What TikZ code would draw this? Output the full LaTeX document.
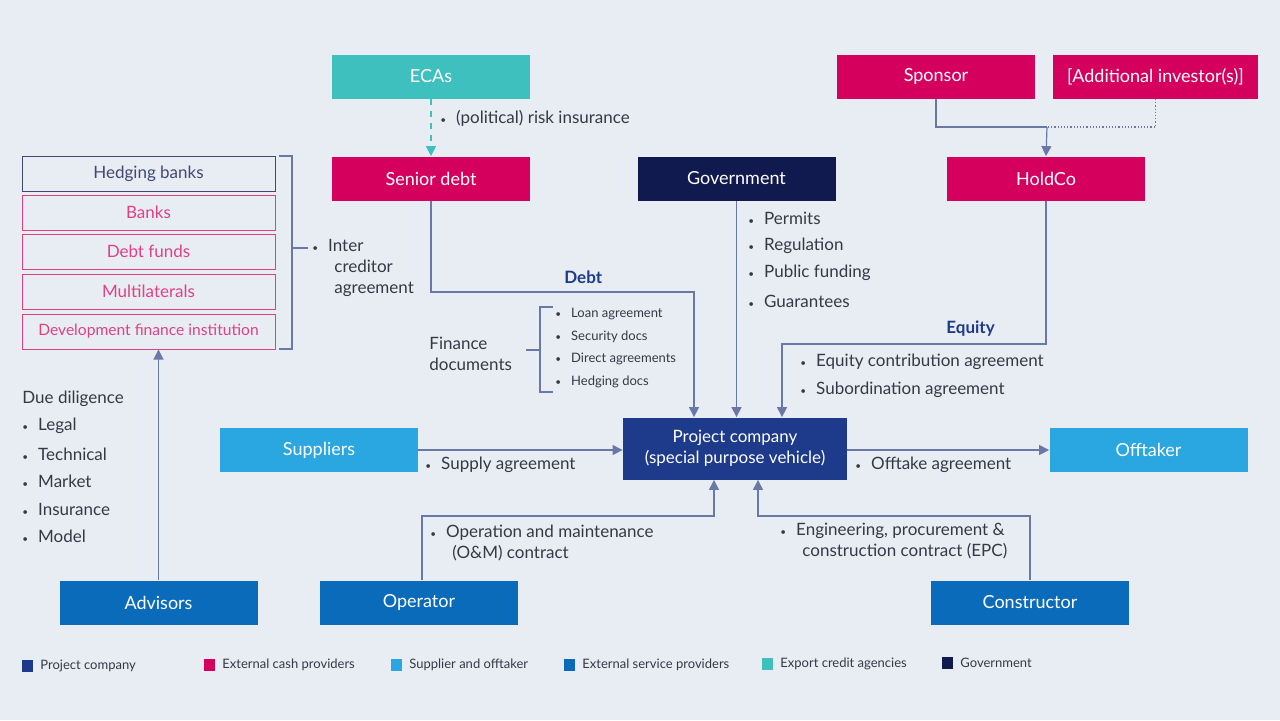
\documentclass[tikz,border=0pt]{standalone}
\usepackage{fontspec}
\setmainfont{Lato}
\definecolor{bg}{HTML}{E8EDF4}
\definecolor{pink}{HTML}{D5005E}
\definecolor{teal}{HTML}{3EC0BE}
\definecolor{gov}{HTML}{111A4F}
\definecolor{pc}{HTML}{1E3A8A}
\definecolor{lb}{HTML}{2AA7E0}
\definecolor{sb}{HTML}{0A6BBA}
\definecolor{txt}{HTML}{333A45}
\definecolor{ln}{HTML}{6A78A8}
\newcommand\bul{{\fontsize{5}{5}\selectfont\textbullet}\hspace{5pt}}
\begin{document}
\begin{tikzpicture}[x=0.5pt,y=-0.5pt,
 box/.style={draw=none,minimum width=99pt,minimum height=22pt,inner sep=0pt,text=white,font=\fontsize{9}{10}\selectfont},
 sbox/.style={draw=#1,fill=none,line width=0.5pt,minimum width=126.5pt,minimum height=17.5pt,inner sep=0pt,text=#1,font=\fontsize{8.5}{10}\selectfont},
 lbl/.style={anchor=west,inner sep=0pt,text=txt,font=\fontsize{8.5}{10.5}\selectfont,align=left},
 sm/.style={anchor=west,inner sep=0pt,text=txt,font=\fontsize{6.5}{8}\selectfont},
 con/.style={draw=ln,line width=0.6pt},
 arr/.style={con,-{Triangle[length=5pt,width=5pt]},shorten >=0pt},
 leg/.style={anchor=west,inner sep=0pt,text=txt,font=\fontsize{6.5}{8}\selectfont}]
\usetikzlibrary{arrows.meta}
\fill[bg] (0,0) rectangle (1280,720);
\useasboundingbox (0,0) rectangle (1280,720);
% boxes
\node[box,fill=teal] (eca) at (431,76.5) {ECAs};
\node[box,fill=pink] (sp) at (936,76.5) {Sponsor};
\node[box,fill=pink,minimum width=102.5pt] (ai) at (1155.5,76.5) {[Additional investor(s)]};
\node[box,fill=pink] (sd) at (431,178.5) {Senior debt};
\node[box,fill=gov] (gv) at (736.5,178.5) {Government};
\node[box,fill=pink] (hc) at (1046,178.5) {HoldCo};
\node[box,fill=pc,minimum width=112pt,minimum height=31pt,align=center,font=\fontsize{8.5}{10.5}\selectfont] (pcn) at (735,448.5) {Project company\\(special purpose vehicle)};
\node[box,fill=lb] (su) at (319,450) {Suppliers};
\node[box,fill=lb] (of) at (1148.5,450) {Offtaker};
\node[box,fill=sb] (ad) at (158.5,602.5) {Advisors};
\node[box,fill=sb] (op) at (419,602.5) {Operator};
\node[box,fill=sb] (co) at (1030,602.5) {Constructor};
% left stack
\node[sbox=gov!80] (hb) at (148.5,173.5) {Hedging banks};
\node[sbox=pink!75] (bk) at (148.5,212.5) {Banks};
\node[sbox=pink!75] (df) at (148.5,251.5) {Debt funds};
\node[sbox=pink!75] (ml) at (148.5,291.5) {Multilaterals};
\node[sbox=pink!75,font=\fontsize{7.8}{9}\selectfont] (dfi) at (148.5,331.5) {Development finance institution};
% bracket
\draw[con] (279,156) -- (292,156) -- (292,349) -- (279,349);
\coordinate (bt) at (292,248);
\node[lbl] (ic) at (312,268) {\bul Inter\\\hspace{11pt}creditor\\\hspace{11pt}agreement};
\draw[con] (bt) -- (308,248);
% connectors
\draw[con,dashed,draw=teal,-{Triangle[length=5pt,width=5pt]}] (eca) -- (sd);
\node[lbl] (pri) at (440,118) {\bul(political) risk insurance};
\coordinate (j1) at (1047,127);
\draw[con] (sp.south) |- (j1);
\draw[con,densely dotted] (ai.south) |- (j1);
\draw[arr] (j1) -- (hc.north);
\draw[arr] (sd.south) |- (694,292) -- (pcn.north-|694,0);
\draw[arr] (gv.south) -- (pcn.north-|gv.south);
\draw[arr] (hc.south) |- (782,344) -- (pcn.north-|782,0);
\draw[arr] (su.east) -- (pcn.west|-su.east);
\draw[arr] (pcn.east|-of.west) -- (of.west);
\draw[arr] (op.north-|422,0) |- (714,516) -- (pcn.south-|714,0);
\draw[arr] (co.north) |- (758,516) -- (pcn.south-|758,0);
\draw[arr] (ad.north) -- (dfi.south-|ad.north);
% labels
\node[lbl,text=pc,font=\bfseries\fontsize{8.5}{10}\selectfont] (debt) at (564,277) {Debt};
\node[lbl,text=pc,font=\bfseries\fontsize{8.5}{10}\selectfont] (eq) at (946,329) {Equity};
\node[lbl] (g1) at (748,218) {\bul Permits};
\node[lbl] (g2) at (748,246) {\bul Regulation};
\node[lbl] (g3) at (748,273) {\bul Public funding};
\node[lbl] (g4) at (748,301) {\bul Guarantees};
\node[lbl] (e1) at (800,362) {\bul Equity contribution agreement};
\node[lbl] (e2) at (800,390) {\bul Subordination agreement};
\node[lbl] (fd) at (429,354) {Finance\\documents};
\draw[con] (553,307) -- (540,307) -- (540,392) -- (553,392);
\draw[con] (526,350) -- (540,350);
\node[sm] (f1) at (555,314) {\bul Loan agreement};
\node[sm] (f2) at (555,337) {\bul Security docs};
\node[sm] (f3) at (555,359) {\bul Direct agreements};
\node[sm] (f4) at (555,382) {\bul Hedging docs};
\node[lbl] (dd) at (22,399) {Due diligence};
\node[lbl] (d1) at (22,426) {\bul Legal};
\node[lbl] (d2) at (22,454) {\bul Technical};
\node[lbl] (d3) at (22,481) {\bul Market};
\node[lbl] (d4) at (22,509) {\bul Insurance};
\node[lbl] (d5) at (22,536) {\bul Model};
\node[lbl] (sa) at (425,465) {\bul Supply agreement};
\node[lbl] (oa) at (855,465) {\bul Offtake agreement};
\node[lbl] (om) at (430,543) {\bul Operation and maintenance\\\hspace{11pt}(O\&M) contract};
\node[lbl] (epc) at (780,541) {\bul Engineering, procurement \&\\\hspace{11pt}construction contract (EPC)};
% legend
\fill[pc] (22,660) rectangle (33,672); \node[leg] (l1) at (40,666) {Project company};
\fill[pink] (204,659) rectangle (215,671); \node[leg] (l2) at (222,665) {External cash providers};
\fill[lb] (391,659) rectangle (402,671); \node[leg] (l3) at (409,665) {Supplier and offtaker};
\fill[sb] (564,659) rectangle (575,671); \node[leg] (l4) at (582,665) {External service providers};
\fill[teal] (762,658) rectangle (773,670); \node[leg] (l5) at (780,664) {Export credit agencies};
\fill[gov] (942,657) rectangle (953,669); \node[leg] (l6) at (960,663) {Government};
\end{tikzpicture}
\end{document}
